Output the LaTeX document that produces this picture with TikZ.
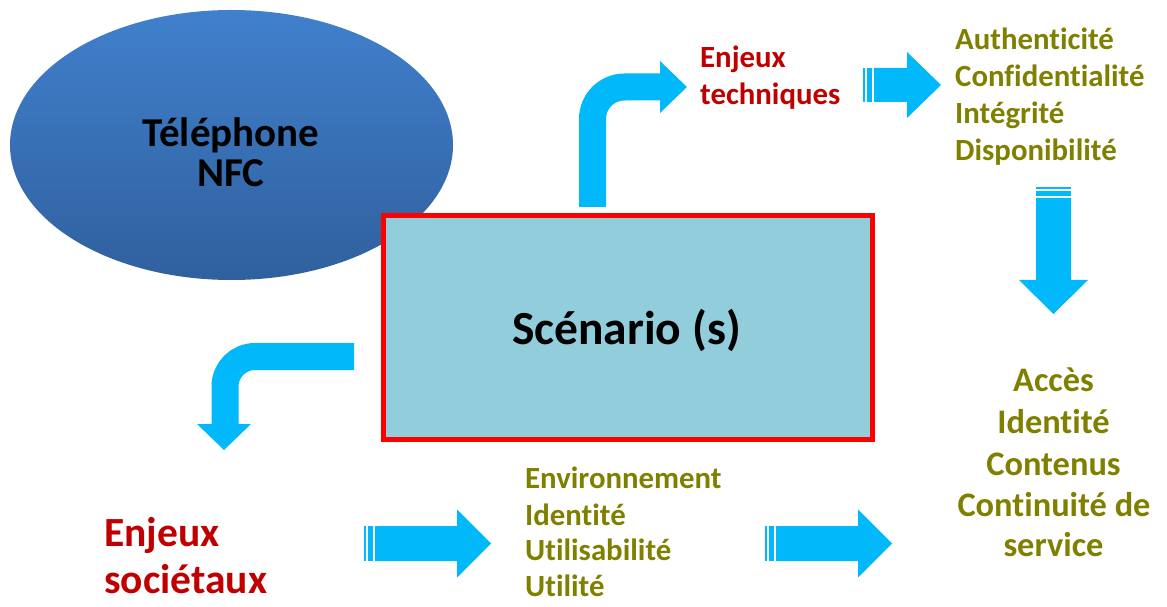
\documentclass[tikz,border=0pt]{standalone}
\usepackage{fontspec}
\setmainfont{Carlito}[RawFeature={-liga;-clig;-dlig;-calt}]
\usetikzlibrary{shapes.geometric}
\definecolor{cyanA}{HTML}{00B8FA}
\definecolor{oliveT}{RGB}{128,128,0}
\definecolor{dred}{HTML}{C00000}
\definecolor{boxfill}{HTML}{92CDDC}
\definecolor{ellTop}{HTML}{4080CC}
\definecolor{ellBot}{HTML}{30609E}
\newcommand\hstriped[6]{%
 \fill[cyanA] (#1-11.5,#4-#5) rectangle (#1-9,#4+#5);
 \fill[cyanA] (#1-7.5,#4-#5) rectangle (#1-2.5,#4+#5);
 \fill[cyanA] (#1,#4-#5) -- (#2,#4-#5) -- (#2,#4-#6) -- (#3,#4) -- (#2,#4+#6) -- (#2,#4+#5) -- (#1,#4+#5) -- cycle;}
\begin{document}
\begin{tikzpicture}[x=1bp,y=-1bp,
  tx/.style={inner sep=0pt, font=\bfseries\fontsize{30.8bp}{37bp}\selectfont},
  olv/.style={tx, text=oliveT},
  big/.style={inner sep=0pt, text=oliveT, font=\bfseries\fontsize{34.4bp}{41bp}\selectfont}]
\useasboundingbox (0,0) rectangle (1167,607);
% ellipse
\node[ellipse, minimum width=443bp, minimum height=270bp, inner sep=0pt,
  top color=ellTop, bottom color=ellBot, draw=none] (phone) at (231.5,145) {};
\node[inner sep=0pt, font=\bfseries\fontsize{41bp}{40bp}\selectfont, anchor=base] (ph1) at (231,146.7) {Téléphone};
\node[inner sep=0pt, font=\bfseries\fontsize{41bp}{40bp}\selectfont, anchor=base] (ph2) at (231,186.7) {NFC};
% scenario box
\node[draw=red, line width=5bp, fill=boxfill, minimum width=488.5bp, minimum height=223.5bp, inner sep=0pt] (scen) at (627.75,327.75) {};
\node[inner sep=0pt, font=\bfseries\fontsize{47.5bp}{50bp}\selectfont, anchor=base] (scentxt) at (626.5,345) {Scénario (s)};
% bent arrow up-right
\coordinate (ur0) at (592.5,207);
\coordinate (ur1) at (660,87);
\draw[cyanA, line width=27bp, rounded corners=32bp] (ur0) |- (ur1);
\fill[cyanA] (660,61) -- (687,87) -- (660,113) -- cycle;
% bent arrow down-left
\coordinate (dl0) at (354,356.5);
\coordinate (dl1) at (225,424);
\draw[cyanA, line width=27bp, rounded corners=30bp] (dl0) -| (dl1);
\fill[cyanA] (197,424) -- (251,424) -- (224,450) -- cycle;
% straight striped arrows
\hstriped{874}{907}{941}{85}{17}{33}
\hstriped{375}{457}{491}{543.5}{17.5}{34}
\hstriped{776}{858}{892}{543.5}{17.5}{34}
% down arrow
\fill[cyanA] (1036,187) rectangle (1071,189.5);
\fill[cyanA] (1036,191.5) rectangle (1071,196);
\fill[cyanA] (1036,198) -- (1036,280) -- (1019,280) -- (1053.5,314) -- (1088,280) -- (1071,280) -- (1071,198) -- cycle;
% texts
\node[tx, text=dred, anchor=base west] (et1) at (700,67.7) {Enjeux};
\node[tx, text=dred, anchor=base west] (et2) at (700,105) {techniques};
\node[olv, anchor=base west] (a1) at (955,50) {Authenticité};
\node[olv, anchor=base west] (a2) at (955,87) {Confidentialité};
\node[olv, anchor=base west] (a3) at (955,124) {Intégrité};
\node[olv, anchor=base west] (a4) at (955,160.5) {Disponibilité};
\node[big, anchor=base] (b1) at (1053.5,391.7) {Accès};
\node[big, anchor=base] (b2) at (1053.5,433) {Identité};
\node[big, anchor=base] (b3) at (1053.5,475) {Contenus};
\node[big, anchor=base] (b4) at (1054,516.7) {Continuité de};
\node[big, anchor=base] (b5) at (1053.5,556.7) {service};
\node[inner sep=0pt, text=dred, font=\bfseries\fontsize{41.5bp}{47bp}\selectfont, anchor=base west] (es1) at (104,546.7) {Enjeux};
\node[inner sep=0pt, text=dred, font=\bfseries\fontsize{41.5bp}{47bp}\selectfont, anchor=base west] (es2) at (104,593) {sociétaux};
\node[olv, anchor=base west] (c1) at (525,488.3) {Environnement};
\node[olv, anchor=base west] (c2) at (525,525) {Identité};
\node[olv, anchor=base west] (c3) at (525,560.5) {Utilisabilité};
\node[olv, anchor=base west] (c4) at (525,596.7) {Utilité};
\end{tikzpicture}
\end{document}
